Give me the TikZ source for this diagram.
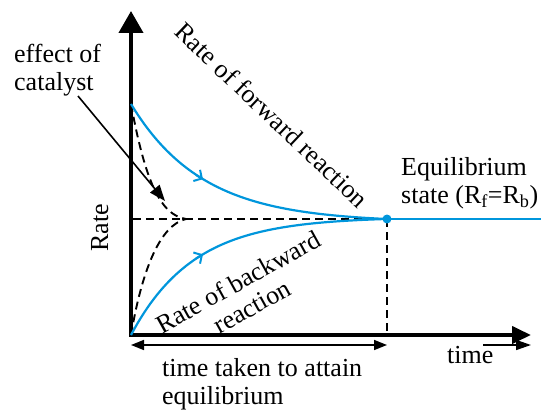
\documentclass[tikz,border=0pt]{standalone}
\usepackage{fontspec}
\setmainfont{Liberation Serif}
\usetikzlibrary{arrows.meta}
\definecolor{eqblue}{RGB}{0,150,220}
\begin{document}
\begin{tikzpicture}[x=1pt,y=-1pt, font=\fontsize{26}{28}\selectfont,
  lbl/.style={inner sep=0pt, align=left},
  axisline/.style={line width=4pt, line join=miter},
  blueline/.style={eqblue, line width=2.2pt},
  dsh/.style={dash pattern=on 8pt off 5pt, line width=1.9pt},
  thinarrow/.style={line width=1.6pt},
  barb/.style={eqblue, line width=2pt, -{Straight Barb[length=6pt,width=13pt]}}
  ]
\useasboundingbox (0,0) rectangle (541,412);

\coordinate (Ytip) at (131,11);
\coordinate (O) at (131,335);
\coordinate (Xtip) at (531,335);
\coordinate (E) at (387,219);
\coordinate (F0) at (131,104);
\coordinate (M) at (186,219);
\coordinate (Ebot) at (387,333);
\coordinate (Rend) at (541,219);

% axes
\draw[axisline, {Triangle[length=22pt,width=24pt]}-{Triangle[length=19pt,width=17pt]}] (Ytip) -- (O) -- (Xtip);

% dashed guides
\draw[dsh] (133,219) -- (E);
\draw[dsh] (E) -- (Ebot);

% catalyst dashed curves
\draw[dsh] (F0) .. controls (145,180) and (160,215) .. (M);
\draw[dsh] (O) .. controls (142,270) and (160,225) .. (M);

% forward and backward curves
\draw[blueline] plot[domain=0:256, samples=80]
  ({131+\x},{219-118.3*(exp(-0.014*\x)-0.0278)});
\draw[blueline] plot[domain=0:256, samples=80]
  ({131+\x},{335-118*(1-exp(-0.016*\x))});
\coordinate (fa1) at (196,175.0);
\coordinate (fa2) at (203,179.2);
\coordinate (ba1) at (196,258.5);
\coordinate (ba2) at (203,254.3);
\draw[barb] (fa1) -- (fa2);
\draw[barb] (ba1) -- (ba2);
\draw[blueline] (E) -- (Rend);
\fill[eqblue] (E) circle (4.5);

% labels
\node[lbl, anchor=base west] (cat) at (14,90) {effect of\\catalyst};
\coordinate (catS) at (78,96);
\coordinate (catT) at (165,201);
\draw[thinarrow, -{Triangle[length=16pt,width=12pt]}] (catS) -- (catT);

\node[inner sep=0pt, rotate=90, anchor=base] (rate) at (108,228) {Rate};
\node[inner sep=0pt, rotate=-43.5] (fw) at (272,115) {Rate of forward reaction};
\node[inner sep=0pt, rotate=29, align=center] (bw) at (245,294) {Rate of backward\\reaction};
\node[lbl, anchor=base west] (eq) at (401,203) {Equilibrium\\state (R\textsubscript{f}=R\textsubscript{b})};

% time spans
\coordinate (dL) at (131,345);
\coordinate (dR) at (387,345);
\draw[thinarrow, {Triangle[length=13pt,width=10pt]}-{Triangle[length=13pt,width=10pt]}] (dL) -- (dR);
\node[lbl, anchor=base west] (tt) at (162,404) {time taken to attain\\equilibrium};

\coordinate (tS) at (483,345);
\coordinate (tE) at (531,345);
\draw[thinarrow, -{Triangle[length=15pt,width=10pt]}] (tS) -- (tE);
\node[inner sep=0pt, anchor=base west] (tm) at (447,363) {time};
\end{tikzpicture}
\end{document}
